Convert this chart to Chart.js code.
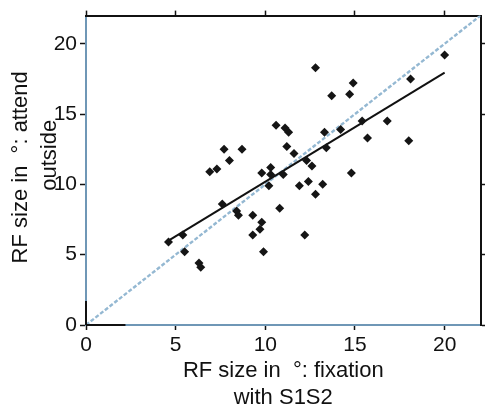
<!DOCTYPE html>
<html>
<head>
    <meta charset="UTF-8">
    <title>RF size scatter</title>
    <script src="https://cdn.jsdelivr.net/npm/chart.js"></script>
    <style>
        body { margin: 0; background: #fff; }
        canvas { display: block; }
    </style>
</head>
<body>
    <canvas id="rfChart" width="485" height="410"></canvas>

    <script>
        // RF size (deg) during fixation with S1S2 vs. attend outside
        const xFixation = [12.8, 20.0, 14.9, 13.7, 14.7, 18.1, 10.6, 11.1, 11.3, 13.3,
                           14.2, 15.4, 16.8, 15.7, 18.0, 7.7, 8.7, 11.2, 11.6, 13.4,
                           12.3, 12.6, 8.0, 6.9, 7.3, 9.8, 10.3, 10.3, 10.2, 14.8,
                           12.4, 11.9, 13.2, 12.8, 7.6, 8.4, 8.5, 9.3, 10.8, 9.8,
                           9.7, 9.3, 12.2, 9.9, 4.6, 5.4, 5.5, 6.3, 6.4, 11.0];
        const yAttendOutside = [18.3, 19.2, 17.2, 16.3, 16.4, 17.5, 14.2, 14.0, 13.7, 13.7,
                                13.9, 14.5, 14.5, 13.3, 13.1, 12.5, 12.5, 12.7, 12.2, 12.6,
                                11.7, 11.3, 11.7, 10.9, 11.1, 10.8, 11.2, 10.7, 9.9, 10.8,
                                10.2, 9.9, 10.0, 9.3, 8.6, 8.1, 7.8, 7.8, 8.3, 7.3,
                                6.8, 6.4, 6.4, 5.2, 5.9, 6.4, 5.2, 4.4, 4.1, 10.7];

        // regression line end points, and the unity line
        const fitX = [4.6, 20];
        const fitY = [6.0, 17.95];
        const unityX = [0, 22];
        const unityY = [0, 22];

        const tickValues = [0, 5, 10, 15, 20];
        const axisMin = 0;
        const axisMax = 22;

        const xTitle = ['RF size in  \u00b0: fixation', 'with S1S2'];
        const yTitle = ['RF size in  \u00b0: attend', 'outside'];

        Chart.defaults.font.family = '"Liberation Sans", Arial, sans-serif';
        Chart.defaults.color = '#111';

        const toPoints = (xs, ys) => xs.map((x, i) => ({x: x, y: ys[i]}));
        const setTicks = scale => { scale.ticks = tickValues.map(v => ({value: v})); };

        // y title drawn by hand so the 2nd line can sit over the tick labels like the original
        const yTitlePlugin = {
            id: 'yTitle',
            afterDraw(chart) {
                const ctx = chart.ctx;
                const area = chart.chartArea;
                const mid = (area.top + area.bottom) / 2;
                const spots = [[21, mid - 3], [50, mid - 15]];
                ctx.save();
                ctx.font = '22px "Liberation Sans", Arial, sans-serif';
                ctx.fillStyle = '#111';
                ctx.textAlign = 'center';
                ctx.textBaseline = 'middle';
                spots.forEach(([cx, cy], i) => {
                    ctx.save();
                    ctx.translate(cx, cy);
                    ctx.rotate(-Math.PI / 2);
                    ctx.fillText(yTitle[i], 0, 0);
                    ctx.restore();
                });
                ctx.restore();
            }
        };

        // short solid black piece of the left/bottom spines near the origin
        const spinePlugin = {
            id: 'spine',
            afterDatasetsDraw(chart) {
                const ctx = chart.ctx;
                const xs = chart.scales.x;
                const ys = chart.scales.y;
                ctx.save();
                ctx.strokeStyle = '#111';
                ctx.lineWidth = 2;
                ctx.beginPath();
                ctx.moveTo(xs.getPixelForValue(0), ys.getPixelForValue(0));
                ctx.lineTo(xs.getPixelForValue(2.2), ys.getPixelForValue(0));
                ctx.moveTo(xs.getPixelForValue(0), ys.getPixelForValue(0));
                ctx.lineTo(xs.getPixelForValue(0), ys.getPixelForValue(1.7));
                ctx.stroke();
                ctx.restore();
            }
        };

        const ctx = document.getElementById('rfChart').getContext('2d');
        new Chart(ctx, {
            type: 'scatter',
            data: {
                datasets: [{
                    data: toPoints(xFixation, yAttendOutside),
                    pointStyle: 'rectRot',
                    pointRadius: 4.5,
                    backgroundColor: '#151515',
                    borderColor: '#151515',
                    borderWidth: 0,
                    order: 0
                }, {
                    data: toPoints(fitX, fitY),
                    showLine: true,
                    borderColor: '#111',
                    borderWidth: 2,
                    pointRadius: 0,
                    order: 1
                }, {
                    data: toPoints(unityX, unityY),
                    showLine: true,
                    borderColor: '#94b8d2',
                    borderWidth: 2.4,
                    borderDash: [4, 2],
                    pointRadius: 0,
                    order: 2
                }]
            },
            options: {
                responsive: false,
                animation: false,
                layout: { padding: 0 },
                plugins: {
                    legend: { display: false },
                    tooltip: { enabled: false }
                },
                scales: {
                    x: {
                        position: 'bottom',
                        min: axisMin,
                        max: axisMax,
                        afterBuildTicks: setTicks,
                        afterFit: s => { s.height = 85; },
                        grid: { drawOnChartArea: false, tickLength: 5, tickColor: '#111', tickWidth: 1.5 },
                        border: { color: '#6f97b6', width: 2, dash: [1, 1] },
                        ticks: { font: { size: 21 }, padding: 3, maxRotation: 0 },
                        title: {
                            display: true,
                            text: xTitle,
                            font: { size: 22, lineHeight: 1.25 },
                            padding: { top: 0, bottom: -2 }
                        }
                    },
                    y: {
                        position: 'left',
                        min: axisMin,
                        max: axisMax,
                        afterBuildTicks: setTicks,
                        afterFit: s => { s.width = 86; },
                        grid: { drawOnChartArea: false, tickLength: 6, tickColor: '#111', tickWidth: 1.5 },
                        border: { color: '#6f97b6', width: 2, dash: [1, 1] },
                        ticks: { font: { size: 21 }, padding: 3 }
                    },
                    x2: {
                        position: 'top',
                        min: axisMin,
                        max: axisMax,
                        afterBuildTicks: setTicks,
                        afterFit: s => { s.height = 13; },
                        grid: { drawOnChartArea: false, tickLength: 5, tickColor: '#111', tickWidth: 1.5 },
                        border: { color: '#111', width: 2 },
                        ticks: { display: false }
                    },
                    y2: {
                        position: 'right',
                        min: axisMin,
                        max: axisMax,
                        afterBuildTicks: setTicks,
                        afterFit: s => { s.width = 2; },
                        grid: { drawOnChartArea: false, tickLength: 5, tickColor: '#111', tickWidth: 1.5 },
                        border: { color: '#111', width: 2 },
                        ticks: { display: false }
                    }
                }
            },
            plugins: [yTitlePlugin, spinePlugin]
        });
    </script>
</body>
</html>
